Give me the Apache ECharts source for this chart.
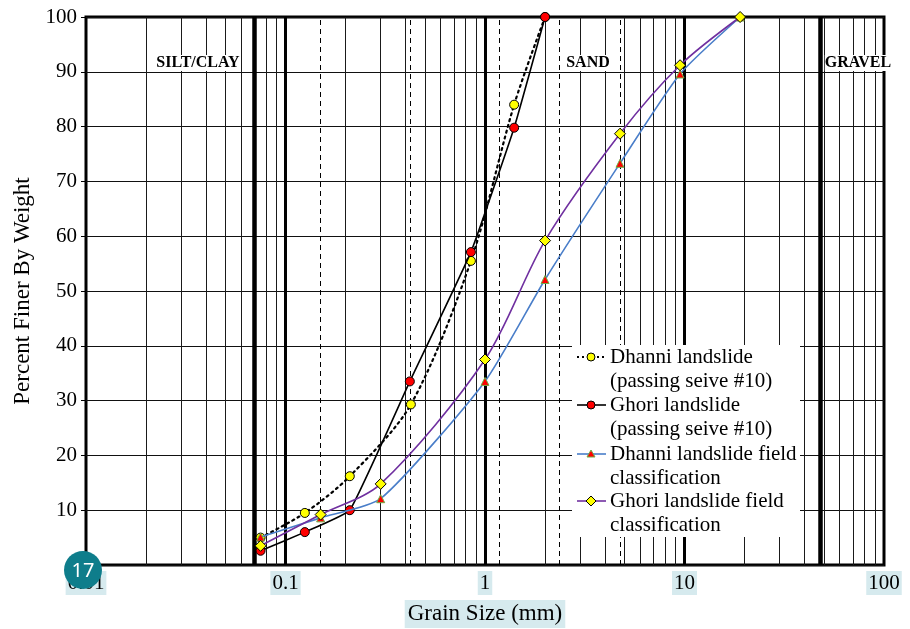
<!DOCTYPE html>
<html>
<head>
<meta charset="utf-8">
<title>Grain size distribution</title>
<script src="https://cdn.jsdelivr.net/npm/echarts@6/dist/echarts.min.js"></script>
<style>
  html, body { margin: 0; padding: 0; background: #fff; }
  #chart { width: 910px; height: 629px; }
</style>
</head>
<body>
<div id="chart"></div>
<script>
// grain size (mm) and percent finer
var dhanniPassX = [0.075, 0.125, 0.21, 0.425, 0.85, 1.4, 2.0];
var dhanniPassY = [5.0, 9.5, 16.2, 29.3, 55.5, 84.0, 100];
var ghoriPassX = [0.075, 0.125, 0.21, 0.42, 0.85, 1.4, 2.0];
var ghoriPassY = [2.6, 6.0, 10.0, 33.5, 57.1, 79.8, 100];
var dhanniFieldX = [0.075, 0.15, 0.3, 1.0, 2.0, 4.75, 9.5, 19];
var dhanniFieldY = [5.1, 8.6, 12.1, 33.5, 52.1, 73.3, 89.6, 100];
var ghoriFieldX = [0.075, 0.15, 0.3, 1.0, 2.0, 4.75, 9.5, 19];
var ghoriFieldY = [3.5, 9.2, 14.8, 37.5, 59.2, 78.7, 91.2, 100];

var seriesNames = [
    'Dhanni landslide\n(passing seive #10)',
    'Ghori landslide\n(passing seive #10)',
    'Dhanni landslide field\nclassification',
    'Ghori landslide field\nclassification'
];
var xTickLabels = ['0.01', '0.1', '1', '10', '100'];
var zoneLabels = ['SILT/CLAY', 'SAND', 'GRAVEL'];
var sieveSizes = [0.075, 0.15, 0.425, 1.18, 2.36, 4.75];
var boundaryLines = [0.072, 48];
var decadeLines = [0.1, 1, 10];

var serif = 'Liberation Serif';

function pairs(xs, ys) {
    return xs.map(function (x, i) { return [x, ys[i]]; });
}

// vertical grid lines at 2..9 of every decade
var minorGrid = [];
[0.01, 0.1, 1, 10].forEach(function (d) {
    for (var k = 2; k <= 9; k++) {
        minorGrid.push({ xAxis: +(d * k).toPrecision(3), lineStyle: { color: '#1a1a1a', width: 1, type: 'solid' } });
    }
});
var gridLines = minorGrid
    .concat(sieveSizes.map(function (v) {
        return { xAxis: v, lineStyle: { color: '#000', width: 1, type: [5, 4] } };
    }))
    .concat(decadeLines.map(function (v) {
        return { xAxis: v, lineStyle: { color: '#000', width: 3, type: 'solid' } };
    }))
    .concat(boundaryLines.map(function (v) {
        return { xAxis: v, lineStyle: { color: '#000', width: 4.5, type: 'solid' } };
    }));

var chartInstance = echarts.init(document.getElementById('chart'));

// hand drawn legend, icon on the first text line
var legendRows = [357, 405, 454, 501];
var legendGraphic = [{
    type: 'rect', shape: { x: 572, y: 345, width: 228, height: 192 },
    style: { fill: '#fff' }, z: 50
}];
var legendLine = [
    { stroke: '#000', lineWidth: 2, lineDash: [2, 3] },
    { stroke: '#000', lineWidth: 1.6 },
    { stroke: '#4a7ec9', lineWidth: 1.6 },
    { stroke: '#7030a0', lineWidth: 1.6 }
];
legendRows.forEach(function (y, i) {
    legendGraphic.push({
        type: 'line', shape: { x1: 577, y1: y, x2: 606, y2: y },
        style: legendLine[i], z: 51
    });
    var cx = 591;
    if (i === 0) {
        legendGraphic.push({ type: 'circle', shape: { cx: cx, cy: y, r: 4 }, style: { fill: '#ffff00', stroke: '#000', lineWidth: 1 }, z: 52 });
    } else if (i === 1) {
        legendGraphic.push({ type: 'circle', shape: { cx: cx, cy: y, r: 4 }, style: { fill: '#ff0000', stroke: '#000', lineWidth: 1 }, z: 52 });
    } else if (i === 2) {
        legendGraphic.push({ type: 'polygon', shape: { points: [[cx, y - 4], [cx + 4, y + 3], [cx - 4, y + 3]] }, style: { fill: '#ff0000', stroke: '#70ad47', lineWidth: 1 }, z: 52 });
    } else {
        legendGraphic.push({ type: 'polygon', shape: { points: [[cx, y - 5], [cx + 5, y], [cx, y + 5], [cx - 5, y]] }, style: { fill: '#ffff00', stroke: '#000', lineWidth: 1 }, z: 52 });
    }
    legendGraphic.push({
        type: 'text', x: 610, y: y - 12, z: 52,
        style: { text: seriesNames[i], fontFamily: serif, fontSize: 21, fill: '#000', lineHeight: 24, verticalAlign: 'top' }
    });
});

var zoneGraphic = [[198, zoneLabels[0]], [588, zoneLabels[1]], [858, zoneLabels[2]]].map(function (z) {
    return {
        type: 'text', x: z[0], y: 63, z: 40,
        style: { text: z[1], fontFamily: serif, fontWeight: 'bold', fontSize: 16, fill: '#000', align: 'center', verticalAlign: 'middle',
                 backgroundColor: '#fff' }
    };
});

var badge = [
    { type: 'circle', shape: { cx: 83, cy: 570, r: 19 }, style: { fill: '#0e7d8b' }, z: 100 },
    { type: 'text', x: 83, y: 571, z: 101,
      style: { text: '17', fontFamily: 'Noto Sans', fontSize: 20, fill: '#fff', align: 'center', verticalAlign: 'middle' } }
];

var option = {
    animation: false,
    backgroundColor: '#fff',
    textStyle: { fontFamily: serif },
    grid: {
        left: 86, right: 26, top: 17, bottom: 64,
        show: true, borderColor: '#000', borderWidth: 3,
        containLabel: false, outerBoundsMode: 'none'
    },
    xAxis: {
        type: 'log', logBase: 10, min: 0.01, max: 100, interval: 1,
        name: 'Grain Size (mm)', nameLocation: 'middle', nameGap: 34,
        nameTextStyle: { fontFamily: serif, fontSize: 23, color: '#000', backgroundColor: '#d6eaee', padding: [3, 3, 2, 3] },
        axisLine: { show: false },
        axisTick: { show: false },
        splitLine: { show: false },
        axisLabel: {
            fontFamily: serif, fontSize: 21, color: '#000', margin: 6,
            backgroundColor: '#d6eaee', padding: [2, 2, 1, 2],
            formatter: function (v) {
                var i = Math.round(Math.log10(v)) + 2;
                return xTickLabels[i] || '';
            }
        }
    },
    yAxis: {
        type: 'value', min: 0, max: 100, interval: 10,
        name: 'Percent Finer By Weight', nameLocation: 'middle', nameGap: 52,
        nameTextStyle: { fontFamily: serif, fontSize: 23, color: '#000' },
        axisLine: { show: false },
        axisTick: { show: true, length: 5, lineStyle: { color: '#000' } },
        splitLine: { show: true, lineStyle: { color: '#111', width: 1.2 } },
        axisLabel: { fontFamily: serif, fontSize: 21, color: '#000', margin: 9, showMinLabel: false }
    },
    graphic: legendGraphic.concat(zoneGraphic).concat(badge),
    series: [
        {
            name: 'grid', type: 'line', data: [], z: 1, silent: true,
            markLine: { silent: true, symbol: 'none', label: { show: false }, animation: false, data: gridLines }
        },
        {
            name: seriesNames[0], type: 'line', data: pairs(dhanniPassX, dhanniPassY), z: 10,
            smooth: 0.3, symbol: 'circle', symbolSize: 9,
            lineStyle: { color: '#000', width: 2.2, type: [2, 4], cap: 'round' },
            itemStyle: { color: '#ffff00', borderColor: '#000', borderWidth: 1 }
        },
        {
            name: seriesNames[1], type: 'line', data: pairs(ghoriPassX, ghoriPassY), z: 11,
            smooth: 0.1, symbol: 'circle', symbolSize: 9,
            lineStyle: { color: '#000', width: 1.6 },
            itemStyle: { color: '#ff0000', borderColor: '#000', borderWidth: 1 }
        },
        {
            name: seriesNames[2], type: 'line', data: pairs(dhanniFieldX, dhanniFieldY), z: 12,
            smooth: 0.2, symbol: 'triangle', symbolSize: 8,
            lineStyle: { color: '#4a7ec9', width: 1.6 },
            itemStyle: { color: '#ff0000', borderColor: '#70ad47', borderWidth: 1 }
        },
        {
            name: seriesNames[3], type: 'line', data: pairs(ghoriFieldX, ghoriFieldY), z: 13,
            smooth: 0.3, symbol: 'diamond', symbolSize: 11,
            lineStyle: { color: '#7030a0', width: 1.6 },
            itemStyle: { color: '#ffff00', borderColor: '#000', borderWidth: 1 }
        }
    ]
};
chartInstance.setOption(option);
</script>
</body>
</html>
